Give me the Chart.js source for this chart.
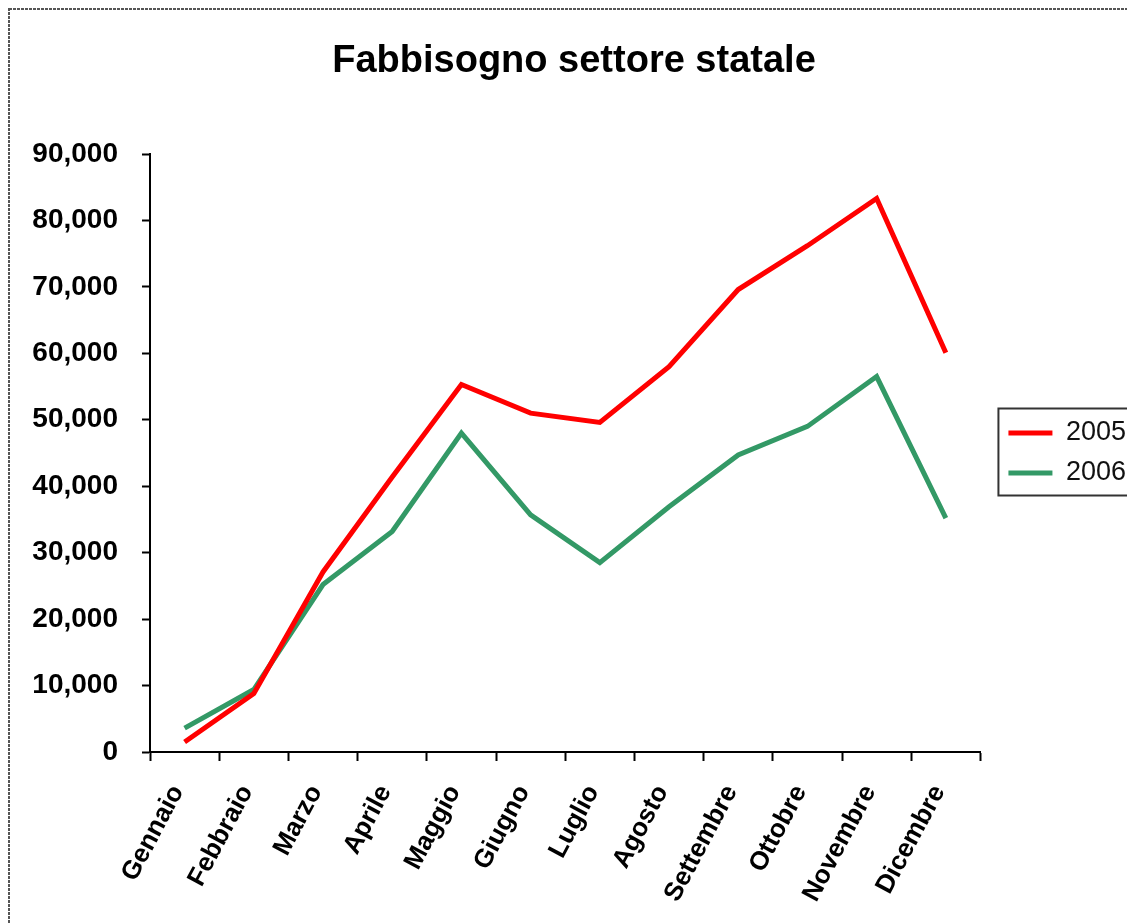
<!DOCTYPE html>
<html>
<head>
<meta charset="utf-8">
<title>Fabbisogno settore statale</title>
<script src="https://cdn.jsdelivr.net/npm/chart.js@4.4.0/dist/chart.umd.min.js"></script>
<style>
  html,body{margin:0;padding:0;background:#fff;overflow:hidden;}
  #wrap{position:absolute;left:0;top:0;width:1136px;height:923px;}
</style>
</head>
<body>
<div id="wrap"><canvas id="c-fabb" width="1136" height="923"></canvas></div>
<script>
/* ── data ── */
const MONTHS=['Gennaio','Febbraio','Marzo','Aprile','Maggio','Giugno','Luglio','Agosto','Settembre','Ottobre','Novembre','Dicembre'];
const Y2005=[1500,8800,27100,41400,55300,51000,49600,58000,69600,76200,83300,60100];
const Y2006=[3600,9400,25200,33200,48000,35700,28500,36900,44700,49000,56500,35200];
const Y_MIN=0,Y_MAX=90000,Y_STEP=10000;
const TITLE='Fabbisogno settore statale';

const FONT="'Liberation Sans', Arial, sans-serif";
Chart.defaults.font.family=FONT;
Chart.defaults.color='#000';

// dashed outer frame + box round the legend
const framePlugin={
  id:'frame',
  beforeDraw(chart){
    const c=chart.ctx;
    c.save();
    c.strokeStyle='#555';c.lineWidth=2;c.setLineDash([3,1]);
    c.strokeRect(9,9,chart.width+20,chart.height+20);
    c.restore();
  },
  afterDraw(chart){
    const lg=chart.legend,hb=lg&&lg.legendHitBoxes;
    if(!hb||!hb.length)return;
    const c=chart.ctx,last=hb[hb.length-1];
    const x0=hb[0].left-10,y0=hb[0].top-11,y1=last.top+last.height+9;
    c.save();
    c.strokeStyle='#333';c.lineWidth=2;
    c.strokeRect(x0,y0,lg.right-x0+20,y1-y0);
    c.restore();
  }
};

new Chart(document.getElementById('c-fabb').getContext('2d'),{
  type:'line',
  data:{
    labels:MONTHS,
    datasets:[
      {label:'2005',data:Y2005,borderColor:'#ff0000',backgroundColor:'#ff0000',borderWidth:5,pointRadius:0,tension:0,fill:false},
      {label:'2006',data:Y2006,borderColor:'#339966',backgroundColor:'#339966',borderWidth:5,pointRadius:0,tension:0,fill:false},
    ]
  },
  options:{
    responsive:false,animation:false,
    layout:{padding:{top:10,left:12,right:0,bottom:0}},
    plugins:{
      title:{display:true,text:TITLE,color:'#000',font:{size:38,weight:'bold'},padding:{top:29.2,bottom:69.2}},
      legend:{
        position:'right',fullSize:false,
        labels:{usePointStyle:true,pointStyle:'line',pointStyleWidth:44,padding:13,color:'#111',font:{size:27}}
      },
      tooltip:{enabled:false}
    },
    scales:{
      x:{
        offset:true,
        grid:{offset:true,drawOnChartArea:false,drawTicks:true,tickLength:9,tickWidth:2,tickColor:'#000'},
        border:{display:true,color:'#000',width:2},
        ticks:{minRotation:62,maxRotation:62,autoSkip:false,padding:19,labelOffset:-7,color:'#000',font:{size:26,weight:'bold'}},
        afterFit(s){s.height=171;}
      },
      y:{
        min:Y_MIN,max:Y_MAX,
        grid:{drawOnChartArea:false,drawTicks:true,tickLength:8,tickWidth:2,tickColor:'#000'},
        border:{display:true,color:'#000',width:2},
        ticks:{stepSize:Y_STEP,padding:24,color:'#000',font:{size:28,weight:'bold'},callback:v=>v.toLocaleString('en-US')},
        afterFit(s){s.width=138;}
      },
      gap:{
        type:'linear',axis:'y',position:'right',display:true,
        grid:{display:false},border:{display:false},ticks:{display:false},
        afterFit(s){s.width=15;}
      }
    }
  },
  plugins:[framePlugin]
});
</script>
</body>
</html>
